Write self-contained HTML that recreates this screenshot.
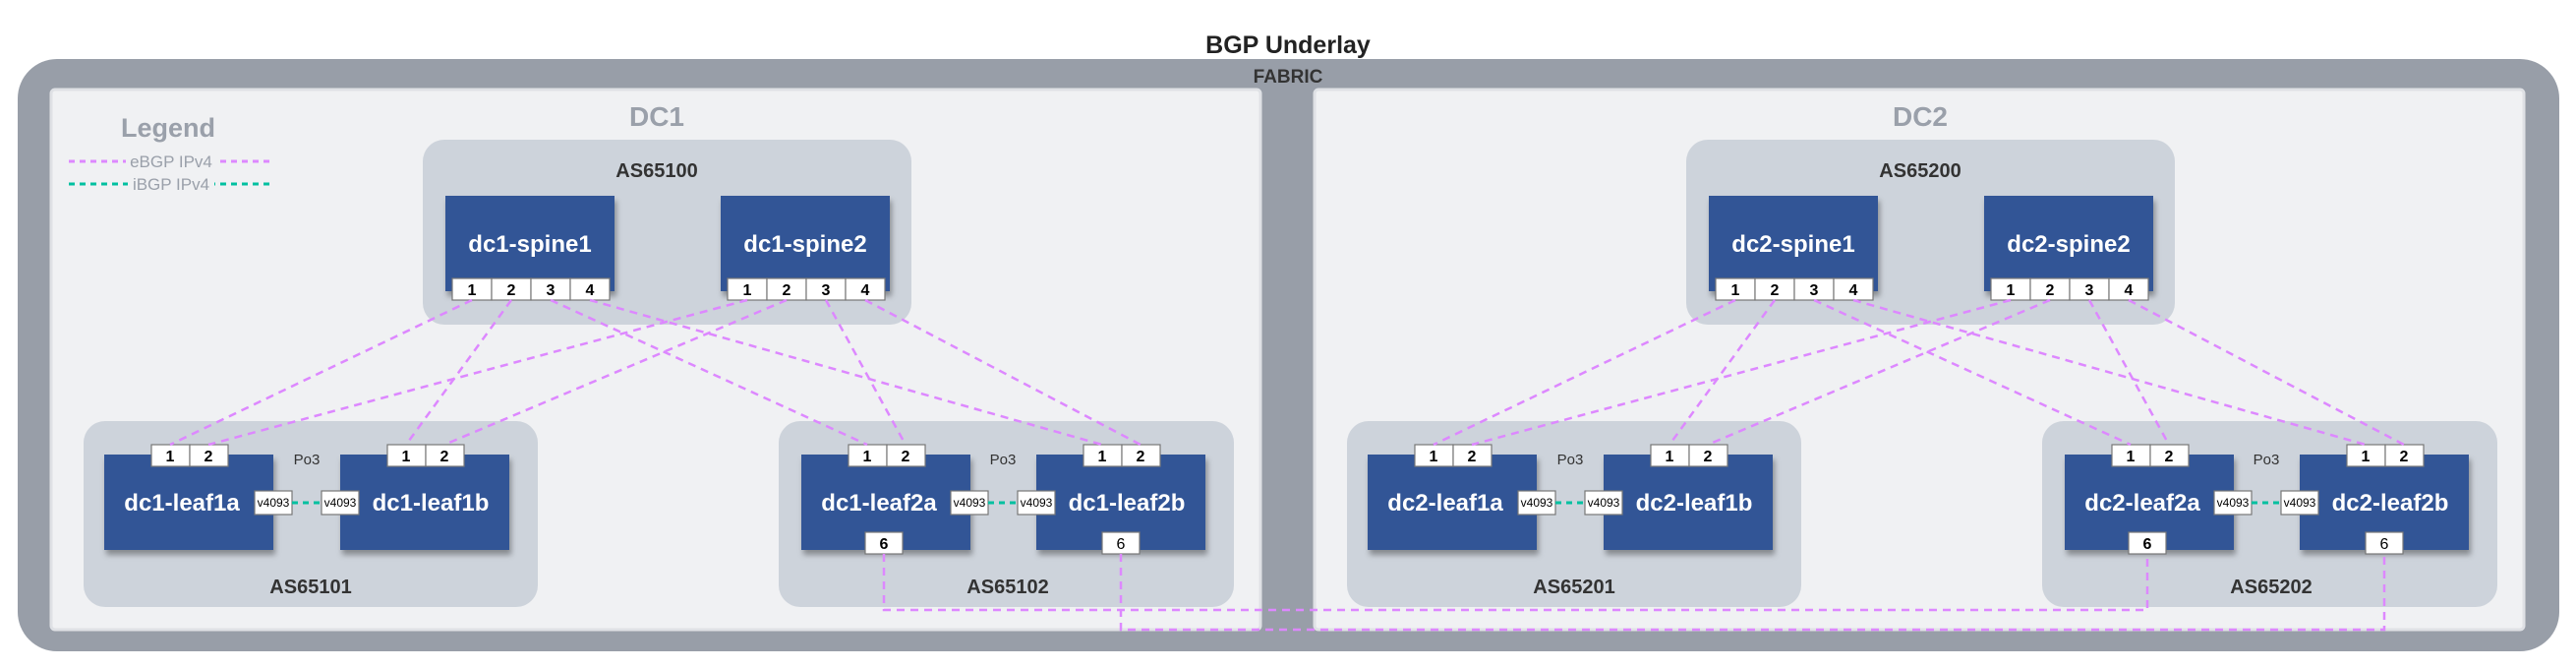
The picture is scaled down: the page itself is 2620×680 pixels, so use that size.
<!DOCTYPE html>
<html><head><meta charset="utf-8"><style>
html,body{margin:0;padding:0;background:#fff;}
svg{display:block;font-family:"Liberation Sans",sans-serif;}
</style></head><body>
<svg width="2620" height="680" viewBox="0 0 2620 680" xmlns="http://www.w3.org/2000/svg">
<defs>
<filter id="sh" x="-10%" y="-10%" width="130%" height="140%"><feDropShadow dx="2" dy="5" stdDeviation="3" flood-color="#000" flood-opacity="0.35"/></filter>
<g id="dc">
  <rect x="52" y="91" width="1230" height="549" rx="4" fill="#f0f1f3" stroke="#dfe1e5" stroke-width="3"/>
  <rect x="430" y="142" width="497" height="188" rx="22" fill="#cdd3db"/>
  <rect x="85" y="428" width="462" height="189" rx="22" fill="#cdd3db"/>
  <rect x="792" y="428" width="463" height="189" rx="22" fill="#cdd3db"/>
  <g>
  <rect x="453" y="199" width="172" height="97" fill="#335596" filter="url(#sh)"/>
  <rect x="733" y="199" width="172" height="97" fill="#335596" filter="url(#sh)"/>
  <rect x="106" y="462" width="172" height="97" fill="#335596" filter="url(#sh)"/>
  <rect x="346" y="462" width="172" height="97" fill="#335596" filter="url(#sh)"/>
  <rect x="815" y="462" width="172" height="97" fill="#335596" filter="url(#sh)"/>
  <rect x="1054" y="462" width="172" height="97" fill="#335596" filter="url(#sh)"/>
  </g>
  <g fill="#fff" stroke="#777" stroke-width="1.2">
  <rect x="460" y="283" width="40" height="22"/><rect x="500" y="283" width="40" height="22"/><rect x="540" y="283" width="40" height="22"/><rect x="580" y="283" width="40" height="22"/>
  <rect x="740" y="283" width="40" height="22"/><rect x="780" y="283" width="40" height="22"/><rect x="820" y="283" width="40" height="22"/><rect x="860" y="283" width="40" height="22"/>
  <rect x="154" y="452" width="39" height="22"/><rect x="193" y="452" width="39" height="22"/>
  <rect x="394" y="452" width="39" height="22"/><rect x="433" y="452" width="39" height="22"/>
  <rect x="863" y="452" width="39" height="22"/><rect x="902" y="452" width="39" height="22"/>
  <rect x="1102" y="452" width="39" height="22"/><rect x="1141" y="452" width="39" height="22"/>
  <rect x="880" y="541" width="38" height="22"/><rect x="1121" y="541" width="38" height="22"/>
  <rect x="259" y="499" width="38" height="24"/><rect x="327" y="499" width="38" height="24"/>
  <rect x="967" y="499" width="38" height="24"/><rect x="1035" y="499" width="38" height="24"/>
  </g>
  <g stroke="#00c0a0" stroke-width="3" stroke-dasharray="6,5">
  <line x1="297" y1="511" x2="327" y2="511"/><line x1="1005" y1="511" x2="1035" y2="511"/>
  </g>
  <g stroke="#dd88ff" stroke-width="2.5" stroke-dasharray="8,6" fill="none">
  <line x1="480" y1="305" x2="173" y2="452"/>
  <line x1="520" y1="305" x2="413" y2="452"/>
  <line x1="560" y1="305" x2="882" y2="452"/>
  <line x1="600" y1="305" x2="1121" y2="452"/>
  <line x1="760" y1="305" x2="212" y2="452"/>
  <line x1="800" y1="305" x2="452" y2="452"/>
  <line x1="840" y1="305" x2="921" y2="452"/>
  <line x1="880" y1="305" x2="1160" y2="452"/>
  </g>
  <g font-size="16" text-anchor="middle" fill="#000" font-weight="bold">
  <text x="480" y="300">1</text><text x="520" y="300">2</text><text x="560" y="300">3</text><text x="600" y="300">4</text>
  <text x="760" y="300">1</text><text x="800" y="300">2</text><text x="840" y="300">3</text><text x="880" y="300">4</text>
  <text x="173" y="469">1</text><text x="212" y="469">2</text><text x="413" y="469">1</text><text x="452" y="469">2</text>
  <text x="882" y="469">1</text><text x="921" y="469">2</text><text x="1121" y="469">1</text><text x="1160" y="469">2</text>
  <text x="899" y="558">6</text><text x="1140" y="558" font-weight="normal">6</text>
  </g>
  <g font-size="12" text-anchor="middle" fill="#000">
  <text x="278" y="515">v4093</text><text x="346" y="515">v4093</text>
  <text x="986" y="515">v4093</text><text x="1054" y="515">v4093</text>
  </g>
  <g fill="#333" font-size="15" text-anchor="middle">
  <text x="312" y="472">Po3</text><text x="1020" y="472">Po3</text>
  </g>
</g>
</defs>
<text x="1310" y="54" font-size="25" font-weight="bold" fill="#222" text-anchor="middle">BGP Underlay</text>
<rect x="18" y="60" width="2585" height="602" rx="40" fill="#989ea8"/>
<text x="1310" y="84" font-size="19" font-weight="bold" fill="#333" text-anchor="middle">FABRIC</text>
<use href="#dc"/>
<use href="#dc" transform="translate(1285,0)"/>
<g fill="#fff" font-weight="bold" font-size="24" text-anchor="middle">
<text x="539" y="256">dc1-spine1</text><text x="819" y="256">dc1-spine2</text>
<text x="1824" y="256">dc2-spine1</text><text x="2104" y="256">dc2-spine2</text>
<text x="185" y="519">dc1-leaf1a</text><text x="438" y="519">dc1-leaf1b</text>
<text x="894" y="519">dc1-leaf2a</text><text x="1146" y="519">dc1-leaf2b</text>
<text x="1470" y="519">dc2-leaf1a</text><text x="1723" y="519">dc2-leaf1b</text>
<text x="2179" y="519">dc2-leaf2a</text><text x="2431" y="519">dc2-leaf2b</text>
</g>
<g fill="#9aa0aa" font-weight="bold" text-anchor="middle">
<text x="668" y="128" font-size="28">DC1</text><text x="1953" y="128" font-size="28">DC2</text>
<text x="171" y="139" font-size="27">Legend</text>
</g>
<g fill="#333" font-weight="bold" font-size="20" text-anchor="middle">
<text x="668" y="180">AS65100</text><text x="1953" y="180">AS65200</text>
<text x="316" y="603">AS65101</text><text x="1025" y="603">AS65102</text>
<text x="1601" y="603">AS65201</text><text x="2310" y="603">AS65202</text>
</g>
<g stroke-width="3" stroke-dasharray="6,5">
<line x1="70" y1="164" x2="277" y2="164" stroke="#dd88ff"/>
<line x1="70" y1="187" x2="277" y2="187" stroke="#00c0a0"/>
</g>
<g fill="#f0f1f3"><rect x="128" y="154" width="92" height="18"/><rect x="130" y="177" width="88" height="18"/></g>
<g fill="#9aa0aa" font-size="17" text-anchor="middle">
<text x="174" y="170">eBGP IPv4</text><text x="174" y="193">iBGP IPv4</text>
</g>
<g stroke="#dd88ff" stroke-width="2.5" stroke-dasharray="8,6" fill="none">
<polyline points="899,563 899,620 2184,620 2184,563"/>
<polyline points="1140,563 1140,640 2425,640 2425,563"/>
</g>
</svg>
</body></html>
